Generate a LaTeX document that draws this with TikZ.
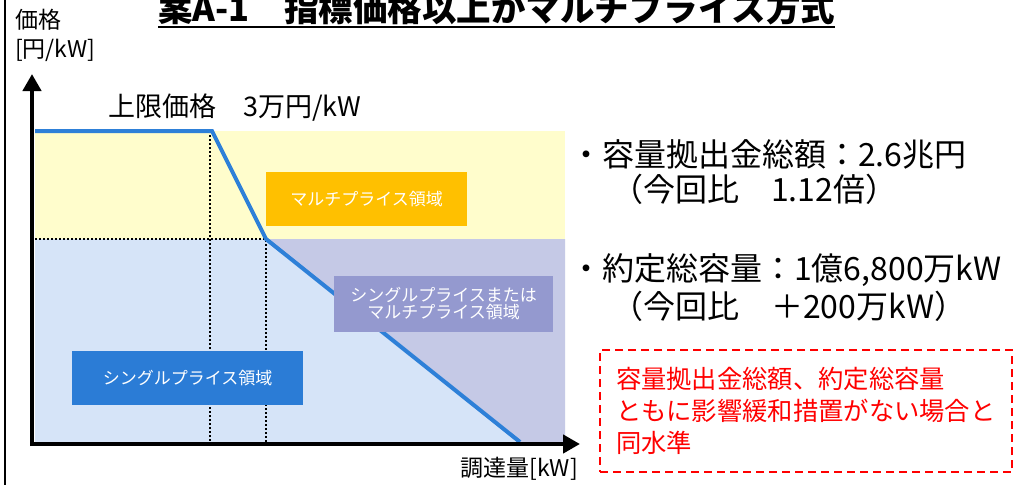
\documentclass[tikz,border=0pt]{standalone}
\usepackage{fontspec}
\setmainfont{Noto Sans CJK JP}
\usetikzlibrary{arrows.meta}
\definecolor{paleyellow}{HTML}{FFFDCC}
\definecolor{paleblue}{HTML}{D6E4F8}
\definecolor{palepurple}{HTML}{C5C9E6}
\definecolor{boxorange}{HTML}{FFC000}
\definecolor{boxpurple}{HTML}{9499CF}
\definecolor{boxblue}{HTML}{2B7CD6}
\definecolor{lineblue}{HTML}{2E80D8}
\newcommand\setfs[2][]{\fontsize{#2}{#2}\selectfont}

\begin{document}
\begin{tikzpicture}[x=1pt,y=-1pt]
              \tikzstyle{every node}+=[inner sep=0pt]
              \tikzstyle{region}=[text=white, minimum height=54pt, align=center, font=\setfs{17}]
              \tikzstyle{axis}=[line width=4.5pt, -{Triangle[length=17pt,width=18pt]}]
              \tikzstyle{guide}=[line width=2pt, dash pattern=on 2pt off 2pt]
              \tikzstyle{info}=[anchor=west, font=\setfs{32}]
              \clip (0,0) rectangle (1018,485);
              \fill [white] (0,0) rectangle (1018,485);
              \draw [line width=2pt] (5,0) -- (5,485);
              \node [anchor=base west, font=\bfseries\setfs{34.5}] (title) at (158,21) {案A-1　指標価格以上がマルチプライス方式};
              \draw [line width=2pt] ([yshift=-6pt]title.base west) -- ([yshift=-6pt]title.base east);
              \coordinate (tl) at (35,131);
              \coordinate (k1) at (212,131);
              \coordinate (k2) at (266,239);
              \coordinate (ml) at (35,239);
              \coordinate (mr) at (565,239);
              \coordinate (br) at (565,442);
              \coordinate (e) at (520,442);
              \coordinate (d1) at (210,442);
              \coordinate (d2) at (266,442);
              \coordinate (o) at (32,444);
              \coordinate (xend) at (580,444);
              \coordinate (yend) at (32,74);
              \fill [paleyellow] (tl) rectangle (mr);
              \fill [paleblue] (ml) rectangle (br);
              \fill [palepurple] (k2) -- (mr) -- (br) -- (e) -- cycle;
              \draw [guide] (ml) -- (k2) -- (d2);
              \draw [guide] (210,131) -- (d1);
              \draw [lineblue, line width=4pt] (tl) -- (k1) -- (k2) -- (e);
              \draw [axis] ([xshift=-2pt]o) -- (xend);
              \draw [axis] ([yshift=-2pt]o) -- (yend);
              \node [region, fill=boxorange, minimum width=201pt] (multi) at (366.5,199) {マルチプライス領域};
              \node [region, fill=boxpurple, minimum width=219pt, minimum height=56pt] (both) at (443.5,304) {シングルプライスまたは\\マルチプライス領域};
              \node [region, fill=boxblue, minimum width=231pt] (single) at (187.5,378) {シングルプライス領域};
              \node [anchor=west, font=\setfs{23}] (yname) at (15,20) {価格};
              \node [anchor=west, font=\setfs{23}] (yunit) at (15,50) {[円/kW]};
              \node [anchor=west, font=\setfs{27}] (cap) at (108,108) {上限価格　3万円/kW};
              \node [anchor=east, font=\setfs{23}] (xname) at (578,469) {調達量[kW]};
              \node [info] (total) at (570,154) {・容量拠出金総額：2.6兆円};
              \node [info] (totalr) at (611,189) {（今回比　1.12倍）};
              \node [info] (cap2) at (570,270) {・約定総容量：1億6,800万kW};
              \node [info] (cap2r) at (611,306) {（今回比　＋200万kW）};
              \node [draw=red, text=red, line width=2pt, dash pattern=on 8pt off 5pt, minimum width=412pt, minimum height=122pt, inner xsep=16pt, text width=380pt, align=left, font=\fontsize{25.3}{32}\selectfont] (note) at (806,411) {容量拠出金総額、約定総容量\\ともに影響緩和措置がない場合と\\同水準};
            \end{tikzpicture}
\end{document}
